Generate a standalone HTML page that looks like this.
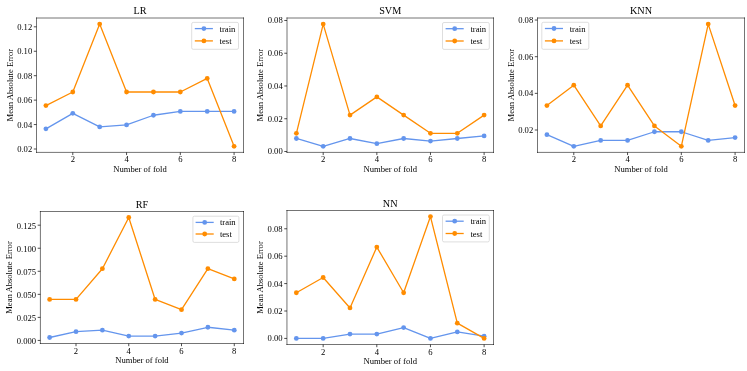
<!DOCTYPE html>
<html><head><meta charset="utf-8"><style>
html,body{margin:0;padding:0;background:#fff;}
svg{display:block;} #wrap{will-change:transform;width:747px;height:371px;}
text{font-family:"Liberation Serif",serif;fill:#000;}
</style></head><body>
<div id="wrap"><svg width="747" height="371" viewBox="0 0 747 371">
<rect width="747" height="371" fill="#fff"/>
<polyline points="45.91,128.84 72.79,113.32 99.68,126.90 126.56,124.96 153.44,115.26 180.32,111.38 207.21,111.38 234.09,111.38" fill="none" stroke="#6495ED" stroke-width="1.3" stroke-linejoin="round" stroke-linecap="butt"/>
<circle cx="45.91" cy="128.84" r="2.4" fill="#6495ED"/>
<circle cx="72.79" cy="113.32" r="2.4" fill="#6495ED"/>
<circle cx="99.68" cy="126.90" r="2.4" fill="#6495ED"/>
<circle cx="126.56" cy="124.96" r="2.4" fill="#6495ED"/>
<circle cx="153.44" cy="115.26" r="2.4" fill="#6495ED"/>
<circle cx="180.32" cy="111.38" r="2.4" fill="#6495ED"/>
<circle cx="207.21" cy="111.38" r="2.4" fill="#6495ED"/>
<circle cx="234.09" cy="111.38" r="2.4" fill="#6495ED"/>
<polyline points="45.91,105.56 72.79,91.99 99.68,24.11 126.56,91.99 153.44,91.99 180.32,91.99 207.21,78.41 234.09,146.29" fill="none" stroke="#FF8C00" stroke-width="1.3" stroke-linejoin="round" stroke-linecap="butt"/>
<circle cx="45.91" cy="105.56" r="2.4" fill="#FF8C00"/>
<circle cx="72.79" cy="91.99" r="2.4" fill="#FF8C00"/>
<circle cx="99.68" cy="24.11" r="2.4" fill="#FF8C00"/>
<circle cx="126.56" cy="91.99" r="2.4" fill="#FF8C00"/>
<circle cx="153.44" cy="91.99" r="2.4" fill="#FF8C00"/>
<circle cx="180.32" cy="91.99" r="2.4" fill="#FF8C00"/>
<circle cx="207.21" cy="78.41" r="2.4" fill="#FF8C00"/>
<circle cx="234.09" cy="146.29" r="2.4" fill="#FF8C00"/>
<path d="M36.50,18.00H243.50M36.50,152.40H243.50M36.50,18.00V152.40M243.50,18.00V152.40" fill="none" stroke="#000" stroke-width="0.55" stroke-linecap="square"/>
<line x1="72.79" y1="152.40" x2="72.79" y2="155.10" stroke="#000" stroke-width="0.7"/>
<text x="72.79" y="162.20" text-anchor="middle" font-size="8.6">2</text>
<line x1="126.56" y1="152.40" x2="126.56" y2="155.10" stroke="#000" stroke-width="0.7"/>
<text x="126.56" y="162.20" text-anchor="middle" font-size="8.6">4</text>
<line x1="180.32" y1="152.40" x2="180.32" y2="155.10" stroke="#000" stroke-width="0.7"/>
<text x="180.32" y="162.20" text-anchor="middle" font-size="8.6">6</text>
<line x1="234.09" y1="152.40" x2="234.09" y2="155.10" stroke="#000" stroke-width="0.7"/>
<text x="234.09" y="162.20" text-anchor="middle" font-size="8.6">8</text>
<line x1="33.80" y1="149.01" x2="36.50" y2="149.01" stroke="#000" stroke-width="0.7"/>
<text x="32.20" y="152.01" text-anchor="end" font-size="8.6">0.02</text>
<line x1="33.80" y1="124.57" x2="36.50" y2="124.57" stroke="#000" stroke-width="0.7"/>
<text x="32.20" y="127.57" text-anchor="end" font-size="8.6">0.04</text>
<line x1="33.80" y1="100.13" x2="36.50" y2="100.13" stroke="#000" stroke-width="0.7"/>
<text x="32.20" y="103.13" text-anchor="end" font-size="8.6">0.06</text>
<line x1="33.80" y1="75.70" x2="36.50" y2="75.70" stroke="#000" stroke-width="0.7"/>
<text x="32.20" y="78.70" text-anchor="end" font-size="8.6">0.08</text>
<line x1="33.80" y1="51.26" x2="36.50" y2="51.26" stroke="#000" stroke-width="0.7"/>
<text x="32.20" y="54.26" text-anchor="end" font-size="8.6">0.10</text>
<line x1="33.80" y1="26.82" x2="36.50" y2="26.82" stroke="#000" stroke-width="0.7"/>
<text x="32.20" y="29.82" text-anchor="end" font-size="8.6">0.12</text>
<text x="140.00" y="172.00" text-anchor="middle" font-size="8.6">Number of fold</text>
<text transform="translate(13.30,85.20) rotate(-90)" text-anchor="middle" font-size="8.6">Mean Absolute Error</text>
<text x="140.00" y="14.40" text-anchor="middle" font-size="10.2">LR</text>
<rect x="191.70" y="22.40" width="46.80" height="26.90" rx="1.5" fill="#fff" fill-opacity="0.8" stroke="#d6d6d6" stroke-width="0.8"/>
<line x1="194.80" y1="28.60" x2="212.90" y2="28.60" stroke="#6495ED" stroke-width="1.3"/>
<circle cx="203.90" cy="28.60" r="2.4" fill="#6495ED"/>
<text x="219.60" y="31.60" font-size="8.6">train</text>
<line x1="194.80" y1="40.90" x2="212.90" y2="40.90" stroke="#FF8C00" stroke-width="1.3"/>
<circle cx="203.90" cy="40.90" r="2.4" fill="#FF8C00"/>
<text x="219.60" y="43.90" font-size="8.6">test</text>
<polyline points="296.39,138.49 323.20,146.29 350.02,138.49 376.84,143.69 403.66,138.49 430.48,141.09 457.30,138.49 484.11,135.89" fill="none" stroke="#6495ED" stroke-width="1.3" stroke-linejoin="round" stroke-linecap="butt"/>
<circle cx="296.39" cy="138.49" r="2.4" fill="#6495ED"/>
<circle cx="323.20" cy="146.29" r="2.4" fill="#6495ED"/>
<circle cx="350.02" cy="138.49" r="2.4" fill="#6495ED"/>
<circle cx="376.84" cy="143.69" r="2.4" fill="#6495ED"/>
<circle cx="403.66" cy="138.49" r="2.4" fill="#6495ED"/>
<circle cx="430.48" cy="141.09" r="2.4" fill="#6495ED"/>
<circle cx="457.30" cy="138.49" r="2.4" fill="#6495ED"/>
<circle cx="484.11" cy="135.89" r="2.4" fill="#6495ED"/>
<polyline points="296.39,133.29 323.20,24.11 350.02,115.10 376.84,96.90 403.66,115.10 430.48,133.29 457.30,133.29 484.11,115.10" fill="none" stroke="#FF8C00" stroke-width="1.3" stroke-linejoin="round" stroke-linecap="butt"/>
<circle cx="296.39" cy="133.29" r="2.4" fill="#FF8C00"/>
<circle cx="323.20" cy="24.11" r="2.4" fill="#FF8C00"/>
<circle cx="350.02" cy="115.10" r="2.4" fill="#FF8C00"/>
<circle cx="376.84" cy="96.90" r="2.4" fill="#FF8C00"/>
<circle cx="403.66" cy="115.10" r="2.4" fill="#FF8C00"/>
<circle cx="430.48" cy="133.29" r="2.4" fill="#FF8C00"/>
<circle cx="457.30" cy="133.29" r="2.4" fill="#FF8C00"/>
<circle cx="484.11" cy="115.10" r="2.4" fill="#FF8C00"/>
<path d="M287.00,18.00H493.50M287.00,152.40H493.50M287.00,18.00V152.40M493.50,18.00V152.40" fill="none" stroke="#000" stroke-width="0.55" stroke-linecap="square"/>
<line x1="323.20" y1="152.40" x2="323.20" y2="155.10" stroke="#000" stroke-width="0.7"/>
<text x="323.20" y="162.20" text-anchor="middle" font-size="8.6">2</text>
<line x1="376.84" y1="152.40" x2="376.84" y2="155.10" stroke="#000" stroke-width="0.7"/>
<text x="376.84" y="162.20" text-anchor="middle" font-size="8.6">4</text>
<line x1="430.48" y1="152.40" x2="430.48" y2="155.10" stroke="#000" stroke-width="0.7"/>
<text x="430.48" y="162.20" text-anchor="middle" font-size="8.6">6</text>
<line x1="484.11" y1="152.40" x2="484.11" y2="155.10" stroke="#000" stroke-width="0.7"/>
<text x="484.11" y="162.20" text-anchor="middle" font-size="8.6">8</text>
<line x1="284.30" y1="151.49" x2="287.00" y2="151.49" stroke="#000" stroke-width="0.7"/>
<text x="282.70" y="154.49" text-anchor="end" font-size="8.6">0.00</text>
<line x1="284.30" y1="118.74" x2="287.00" y2="118.74" stroke="#000" stroke-width="0.7"/>
<text x="282.70" y="121.74" text-anchor="end" font-size="8.6">0.02</text>
<line x1="284.30" y1="85.98" x2="287.00" y2="85.98" stroke="#000" stroke-width="0.7"/>
<text x="282.70" y="88.98" text-anchor="end" font-size="8.6">0.04</text>
<line x1="284.30" y1="53.22" x2="287.00" y2="53.22" stroke="#000" stroke-width="0.7"/>
<text x="282.70" y="56.22" text-anchor="end" font-size="8.6">0.06</text>
<line x1="284.30" y1="20.47" x2="287.00" y2="20.47" stroke="#000" stroke-width="0.7"/>
<text x="282.70" y="23.47" text-anchor="end" font-size="8.6">0.08</text>
<text x="390.25" y="172.00" text-anchor="middle" font-size="8.6">Number of fold</text>
<text transform="translate(263.10,85.20) rotate(-90)" text-anchor="middle" font-size="8.6">Mean Absolute Error</text>
<text x="390.25" y="14.40" text-anchor="middle" font-size="10.2">SVM</text>
<rect x="442.50" y="22.50" width="46.80" height="26.90" rx="1.5" fill="#fff" fill-opacity="0.8" stroke="#d6d6d6" stroke-width="0.8"/>
<line x1="445.60" y1="28.70" x2="463.70" y2="28.70" stroke="#6495ED" stroke-width="1.3"/>
<circle cx="454.70" cy="28.70" r="2.4" fill="#6495ED"/>
<text x="470.40" y="31.70" font-size="8.6">train</text>
<line x1="445.60" y1="41.00" x2="463.70" y2="41.00" stroke="#FF8C00" stroke-width="1.3"/>
<circle cx="454.70" cy="41.00" r="2.4" fill="#FF8C00"/>
<text x="470.40" y="44.00" font-size="8.6">test</text>
<polyline points="546.91,134.65 573.79,146.29 600.68,140.47 627.56,140.47 654.44,131.75 681.32,131.75 708.21,140.47 735.09,137.56" fill="none" stroke="#6495ED" stroke-width="1.3" stroke-linejoin="round" stroke-linecap="butt"/>
<circle cx="546.91" cy="134.65" r="2.4" fill="#6495ED"/>
<circle cx="573.79" cy="146.29" r="2.4" fill="#6495ED"/>
<circle cx="600.68" cy="140.47" r="2.4" fill="#6495ED"/>
<circle cx="627.56" cy="140.47" r="2.4" fill="#6495ED"/>
<circle cx="654.44" cy="131.75" r="2.4" fill="#6495ED"/>
<circle cx="681.32" cy="131.75" r="2.4" fill="#6495ED"/>
<circle cx="708.21" cy="140.47" r="2.4" fill="#6495ED"/>
<circle cx="735.09" cy="137.56" r="2.4" fill="#6495ED"/>
<polyline points="546.91,105.56 573.79,85.20 600.68,125.93 627.56,85.20 654.44,125.93 681.32,146.29 708.21,24.11 735.09,105.56" fill="none" stroke="#FF8C00" stroke-width="1.3" stroke-linejoin="round" stroke-linecap="butt"/>
<circle cx="546.91" cy="105.56" r="2.4" fill="#FF8C00"/>
<circle cx="573.79" cy="85.20" r="2.4" fill="#FF8C00"/>
<circle cx="600.68" cy="125.93" r="2.4" fill="#FF8C00"/>
<circle cx="627.56" cy="85.20" r="2.4" fill="#FF8C00"/>
<circle cx="654.44" cy="125.93" r="2.4" fill="#FF8C00"/>
<circle cx="681.32" cy="146.29" r="2.4" fill="#FF8C00"/>
<circle cx="708.21" cy="24.11" r="2.4" fill="#FF8C00"/>
<circle cx="735.09" cy="105.56" r="2.4" fill="#FF8C00"/>
<path d="M537.50,18.00H744.50M537.50,152.40H744.50M537.50,18.00V152.40M744.50,18.00V152.40" fill="none" stroke="#000" stroke-width="0.55" stroke-linecap="square"/>
<line x1="573.79" y1="152.40" x2="573.79" y2="155.10" stroke="#000" stroke-width="0.7"/>
<text x="573.79" y="162.20" text-anchor="middle" font-size="8.6">2</text>
<line x1="627.56" y1="152.40" x2="627.56" y2="155.10" stroke="#000" stroke-width="0.7"/>
<text x="627.56" y="162.20" text-anchor="middle" font-size="8.6">4</text>
<line x1="681.32" y1="152.40" x2="681.32" y2="155.10" stroke="#000" stroke-width="0.7"/>
<text x="681.32" y="162.20" text-anchor="middle" font-size="8.6">6</text>
<line x1="735.09" y1="152.40" x2="735.09" y2="155.10" stroke="#000" stroke-width="0.7"/>
<text x="735.09" y="162.20" text-anchor="middle" font-size="8.6">8</text>
<line x1="534.80" y1="130.00" x2="537.50" y2="130.00" stroke="#000" stroke-width="0.7"/>
<text x="533.20" y="133.00" text-anchor="end" font-size="8.6">0.02</text>
<line x1="534.80" y1="93.35" x2="537.50" y2="93.35" stroke="#000" stroke-width="0.7"/>
<text x="533.20" y="96.35" text-anchor="end" font-size="8.6">0.04</text>
<line x1="534.80" y1="56.69" x2="537.50" y2="56.69" stroke="#000" stroke-width="0.7"/>
<text x="533.20" y="59.69" text-anchor="end" font-size="8.6">0.06</text>
<line x1="534.80" y1="20.04" x2="537.50" y2="20.04" stroke="#000" stroke-width="0.7"/>
<text x="533.20" y="23.04" text-anchor="end" font-size="8.6">0.08</text>
<text x="641.00" y="172.00" text-anchor="middle" font-size="8.6">Number of fold</text>
<text transform="translate(513.90,85.20) rotate(-90)" text-anchor="middle" font-size="8.6">Mean Absolute Error</text>
<text x="641.00" y="14.40" text-anchor="middle" font-size="10.2">KNN</text>
<rect x="541.80" y="22.30" width="47.00" height="27.00" rx="1.5" fill="#fff" fill-opacity="0.8" stroke="#d6d6d6" stroke-width="0.8"/>
<line x1="544.90" y1="28.50" x2="563.00" y2="28.50" stroke="#6495ED" stroke-width="1.3"/>
<circle cx="554.00" cy="28.50" r="2.4" fill="#6495ED"/>
<text x="569.70" y="31.50" font-size="8.6">train</text>
<line x1="544.90" y1="40.90" x2="563.00" y2="40.90" stroke="#FF8C00" stroke-width="1.3"/>
<circle cx="554.00" cy="40.90" r="2.4" fill="#FF8C00"/>
<text x="569.70" y="43.90" font-size="8.6">test</text>
<polyline points="49.63,337.50 76.01,331.65 102.39,330.18 128.76,336.04 155.14,336.04 181.51,333.11 207.89,327.26 234.27,330.18" fill="none" stroke="#6495ED" stroke-width="1.3" stroke-linejoin="round" stroke-linecap="butt"/>
<circle cx="49.63" cy="337.50" r="2.4" fill="#6495ED"/>
<circle cx="76.01" cy="331.65" r="2.4" fill="#6495ED"/>
<circle cx="102.39" cy="330.18" r="2.4" fill="#6495ED"/>
<circle cx="128.76" cy="336.04" r="2.4" fill="#6495ED"/>
<circle cx="155.14" cy="336.04" r="2.4" fill="#6495ED"/>
<circle cx="181.51" cy="333.11" r="2.4" fill="#6495ED"/>
<circle cx="207.89" cy="327.26" r="2.4" fill="#6495ED"/>
<circle cx="234.27" cy="330.18" r="2.4" fill="#6495ED"/>
<polyline points="49.63,299.45 76.01,299.45 102.39,268.72 128.76,217.50 155.14,299.45 181.51,309.70 207.89,268.72 234.27,278.96" fill="none" stroke="#FF8C00" stroke-width="1.3" stroke-linejoin="round" stroke-linecap="butt"/>
<circle cx="49.63" cy="299.45" r="2.4" fill="#FF8C00"/>
<circle cx="76.01" cy="299.45" r="2.4" fill="#FF8C00"/>
<circle cx="102.39" cy="268.72" r="2.4" fill="#FF8C00"/>
<circle cx="128.76" cy="217.50" r="2.4" fill="#FF8C00"/>
<circle cx="155.14" cy="299.45" r="2.4" fill="#FF8C00"/>
<circle cx="181.51" cy="309.70" r="2.4" fill="#FF8C00"/>
<circle cx="207.89" cy="268.72" r="2.4" fill="#FF8C00"/>
<circle cx="234.27" cy="278.96" r="2.4" fill="#FF8C00"/>
<path d="M40.40,211.50H243.50M40.40,343.50H243.50M40.40,211.50V343.50M243.50,211.50V343.50" fill="none" stroke="#000" stroke-width="0.55" stroke-linecap="square"/>
<line x1="76.01" y1="343.50" x2="76.01" y2="346.20" stroke="#000" stroke-width="0.7"/>
<text x="76.01" y="354.40" text-anchor="middle" font-size="8.6">2</text>
<line x1="128.76" y1="343.50" x2="128.76" y2="346.20" stroke="#000" stroke-width="0.7"/>
<text x="128.76" y="354.40" text-anchor="middle" font-size="8.6">4</text>
<line x1="181.51" y1="343.50" x2="181.51" y2="346.20" stroke="#000" stroke-width="0.7"/>
<text x="181.51" y="354.40" text-anchor="middle" font-size="8.6">6</text>
<line x1="234.27" y1="343.50" x2="234.27" y2="346.20" stroke="#000" stroke-width="0.7"/>
<text x="234.27" y="354.40" text-anchor="middle" font-size="8.6">8</text>
<line x1="37.70" y1="340.43" x2="40.40" y2="340.43" stroke="#000" stroke-width="0.7"/>
<text x="36.10" y="344.23" text-anchor="end" font-size="8.6">0.000</text>
<line x1="37.70" y1="317.38" x2="40.40" y2="317.38" stroke="#000" stroke-width="0.7"/>
<text x="36.10" y="321.18" text-anchor="end" font-size="8.6">0.025</text>
<line x1="37.70" y1="294.33" x2="40.40" y2="294.33" stroke="#000" stroke-width="0.7"/>
<text x="36.10" y="298.13" text-anchor="end" font-size="8.6">0.050</text>
<line x1="37.70" y1="271.28" x2="40.40" y2="271.28" stroke="#000" stroke-width="0.7"/>
<text x="36.10" y="275.08" text-anchor="end" font-size="8.6">0.075</text>
<line x1="37.70" y1="248.23" x2="40.40" y2="248.23" stroke="#000" stroke-width="0.7"/>
<text x="36.10" y="252.03" text-anchor="end" font-size="8.6">0.100</text>
<line x1="37.70" y1="225.18" x2="40.40" y2="225.18" stroke="#000" stroke-width="0.7"/>
<text x="36.10" y="228.98" text-anchor="end" font-size="8.6">0.125</text>
<text x="141.95" y="363.10" text-anchor="middle" font-size="8.6">Number of fold</text>
<text transform="translate(12.40,277.50) rotate(-90)" text-anchor="middle" font-size="8.6">Mean Absolute Error</text>
<text x="141.95" y="208.35" text-anchor="middle" font-size="10.2">RF</text>
<rect x="192.90" y="216.20" width="46.00" height="26.20" rx="1.5" fill="#fff" fill-opacity="0.8" stroke="#d6d6d6" stroke-width="0.8"/>
<line x1="195.60" y1="222.40" x2="213.70" y2="222.40" stroke="#6495ED" stroke-width="1.3"/>
<circle cx="204.70" cy="222.40" r="2.4" fill="#6495ED"/>
<text x="219.90" y="225.40" font-size="8.6">train</text>
<line x1="195.60" y1="234.00" x2="213.70" y2="234.00" stroke="#FF8C00" stroke-width="1.3"/>
<circle cx="204.70" cy="234.00" r="2.4" fill="#FF8C00"/>
<text x="219.90" y="237.00" font-size="8.6">test</text>
<polyline points="296.34,338.41 323.16,338.41 349.99,334.06 376.81,334.06 403.64,327.53 430.46,338.41 457.29,331.88 484.11,336.23" fill="none" stroke="#6495ED" stroke-width="1.3" stroke-linejoin="round" stroke-linecap="butt"/>
<circle cx="296.34" cy="338.41" r="2.4" fill="#6495ED"/>
<circle cx="323.16" cy="338.41" r="2.4" fill="#6495ED"/>
<circle cx="349.99" cy="334.06" r="2.4" fill="#6495ED"/>
<circle cx="376.81" cy="334.06" r="2.4" fill="#6495ED"/>
<circle cx="403.64" cy="327.53" r="2.4" fill="#6495ED"/>
<circle cx="430.46" cy="338.41" r="2.4" fill="#6495ED"/>
<circle cx="457.29" cy="331.88" r="2.4" fill="#6495ED"/>
<circle cx="484.11" cy="336.23" r="2.4" fill="#6495ED"/>
<polyline points="296.34,292.73 323.16,277.50 349.99,307.95 376.81,247.05 403.64,292.73 430.46,216.59 457.29,323.18 484.11,338.41" fill="none" stroke="#FF8C00" stroke-width="1.3" stroke-linejoin="round" stroke-linecap="butt"/>
<circle cx="296.34" cy="292.73" r="2.4" fill="#FF8C00"/>
<circle cx="323.16" cy="277.50" r="2.4" fill="#FF8C00"/>
<circle cx="349.99" cy="307.95" r="2.4" fill="#FF8C00"/>
<circle cx="376.81" cy="247.05" r="2.4" fill="#FF8C00"/>
<circle cx="403.64" cy="292.73" r="2.4" fill="#FF8C00"/>
<circle cx="430.46" cy="216.59" r="2.4" fill="#FF8C00"/>
<circle cx="457.29" cy="323.18" r="2.4" fill="#FF8C00"/>
<circle cx="484.11" cy="338.41" r="2.4" fill="#FF8C00"/>
<path d="M286.95,210.50H493.50M286.95,344.50H493.50M286.95,210.50V344.50M493.50,210.50V344.50" fill="none" stroke="#000" stroke-width="0.55" stroke-linecap="square"/>
<line x1="323.16" y1="344.50" x2="323.16" y2="347.20" stroke="#000" stroke-width="0.7"/>
<text x="323.16" y="354.90" text-anchor="middle" font-size="8.6">2</text>
<line x1="376.81" y1="344.50" x2="376.81" y2="347.20" stroke="#000" stroke-width="0.7"/>
<text x="376.81" y="354.90" text-anchor="middle" font-size="8.6">4</text>
<line x1="430.46" y1="344.50" x2="430.46" y2="347.20" stroke="#000" stroke-width="0.7"/>
<text x="430.46" y="354.90" text-anchor="middle" font-size="8.6">6</text>
<line x1="484.11" y1="344.50" x2="484.11" y2="347.20" stroke="#000" stroke-width="0.7"/>
<text x="484.11" y="354.90" text-anchor="middle" font-size="8.6">8</text>
<line x1="284.25" y1="338.41" x2="286.95" y2="338.41" stroke="#000" stroke-width="0.7"/>
<text x="282.65" y="341.41" text-anchor="end" font-size="8.6">0.00</text>
<line x1="284.25" y1="311.00" x2="286.95" y2="311.00" stroke="#000" stroke-width="0.7"/>
<text x="282.65" y="314.00" text-anchor="end" font-size="8.6">0.02</text>
<line x1="284.25" y1="283.59" x2="286.95" y2="283.59" stroke="#000" stroke-width="0.7"/>
<text x="282.65" y="286.59" text-anchor="end" font-size="8.6">0.04</text>
<line x1="284.25" y1="256.18" x2="286.95" y2="256.18" stroke="#000" stroke-width="0.7"/>
<text x="282.65" y="259.18" text-anchor="end" font-size="8.6">0.06</text>
<line x1="284.25" y1="228.77" x2="286.95" y2="228.77" stroke="#000" stroke-width="0.7"/>
<text x="282.65" y="231.77" text-anchor="end" font-size="8.6">0.08</text>
<text x="390.23" y="364.10" text-anchor="middle" font-size="8.6">Number of fold</text>
<text transform="translate(262.70,277.50) rotate(-90)" text-anchor="middle" font-size="8.6">Mean Absolute Error</text>
<text x="390.23" y="206.90" text-anchor="middle" font-size="10.2">NN</text>
<rect x="442.50" y="215.00" width="46.80" height="26.90" rx="1.5" fill="#fff" fill-opacity="0.8" stroke="#d6d6d6" stroke-width="0.8"/>
<line x1="445.60" y1="221.20" x2="463.70" y2="221.20" stroke="#6495ED" stroke-width="1.3"/>
<circle cx="454.70" cy="221.20" r="2.4" fill="#6495ED"/>
<text x="470.40" y="224.20" font-size="8.6">train</text>
<line x1="445.60" y1="233.50" x2="463.70" y2="233.50" stroke="#FF8C00" stroke-width="1.3"/>
<circle cx="454.70" cy="233.50" r="2.4" fill="#FF8C00"/>
<text x="470.40" y="236.50" font-size="8.6">test</text>
</svg></div>
</body></html>
